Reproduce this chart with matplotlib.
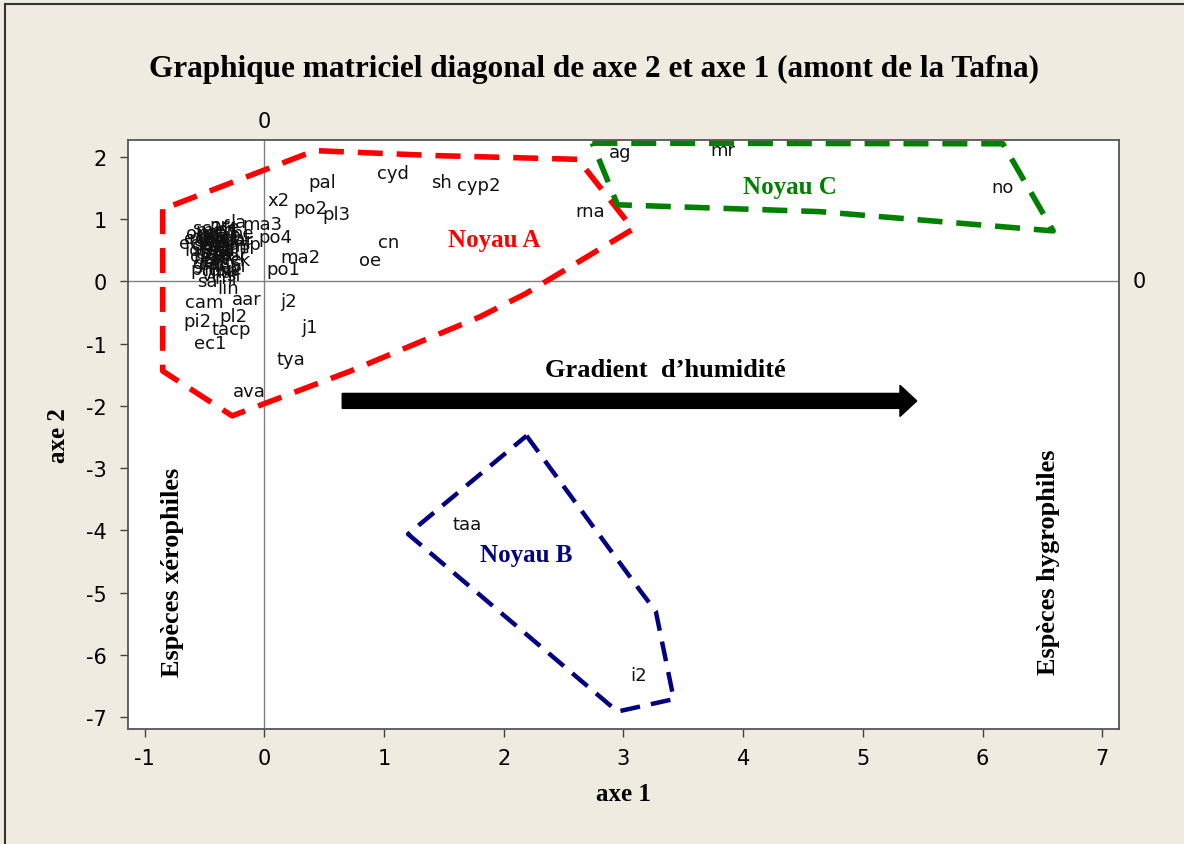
import numpy as np
import matplotlib
matplotlib.use('Agg')
from matplotlib import pyplot as plt
from matplotlib.patches import FancyArrow
from matplotlib.lines import Line2D

plt.rcParams['axes.unicode_minus'] = False

# species scores on axe 1 / axe 2
labels = ['x2', 'pal', 'po2', 'pl3', 'cyd', 'sh', 'cyp2', 'rna', 'ag', 'mr', 'no',
          'cn', 'oe', 'ma2', 'po1', 'ma3', 'po4', 'j2', 'j1', 'tya', 'ava',
          'ec1', 'tacp', 'pl2', 'pi2', 'aar', 'cam', 'taa', 'i2']
axe1 = [0.12, 0.48, 0.38, 0.60, 1.07, 1.48, 1.79, 2.72, 2.97, 3.83, 6.17,
        1.04, 0.88, 0.30, 0.16, -0.02, 0.09, 0.20, 0.38, 0.22, -0.13,
        -0.45, -0.28, -0.26, -0.56, -0.15, -0.50, 1.69, 3.13]
axe2 = [1.31, 1.60, 1.18, 1.08, 1.74, 1.60, 1.55, 1.13, 2.08, 2.11, 1.51,
        0.63, 0.34, 0.39, 0.20, 0.92, 0.71, -0.31, -0.73, -1.25, -1.76,
        -0.99, -0.77, -0.55, -0.63, -0.28, -0.33, -3.89, -6.33]

# the dense, overlapping cluster near the origin
clust_labels = ['sc1', 'ca1', 'ec2', 'la', 'ta1', 'ar', 'sp', 'ck', 'ne', 'cr',
                'co', 'fe', 'ge', 'ha', 'he', 'li', 'lo', 'me', 'mi', 'pa',
                'ph', 'pi', 'pr', 'ra', 're', 'ru', 'sa', 'se', 'si', 'st',
                'te', 'th', 'tr', 'ur', 've', 'vi', 'bl', 'lin', 'sca', 'ba',
                'dac', 'bra', 'hor', 'ono', 'pla', 'sil', 'bro', 'ery', 'mar', 'tri',
                'ech', 'car', 'lam', 'cal', 'eup', 'gal', 'med', 'ave', 'fum', 'ana']
clust_x = [-0.48, -0.35, -0.58, -0.22, -0.42, -0.30, -0.12, -0.20, -0.38, -0.55,
           -0.45, -0.28, -0.50, -0.36, -0.18, -0.25, -0.60, -0.40, -0.32, -0.46,
           -0.52, -0.22, -0.38, -0.44, -0.30, -0.56, -0.48, -0.34, -0.26, -0.42,
           -0.50, -0.36, -0.16, -0.40, -0.28, -0.46, -0.20, -0.30, -0.44, -0.38,
           -0.42, -0.33, -0.27, -0.52, -0.37, -0.31, -0.47, -0.40, -0.24, -0.35,
           -0.54, -0.43, -0.29, -0.39, -0.34, -0.49, -0.41, -0.32, -0.36, -0.45]
clust_y = [0.85, 0.80, 0.62, 0.95, 0.45, 0.70, 0.60, 0.35, 0.25, 0.40,
           0.55, 0.88, 0.30, 0.15, 0.78, 0.50, 0.50, 0.68, 0.05, 0.75,
           0.20, 0.25, 0.90, 0.35, 0.60, 0.70, 0.00, 0.42, 0.10, 0.58,
           0.45, 0.30, 0.55, 0.82, 0.20, 0.10, 0.70, -0.10, 0.65, 0.50,
           0.72, 0.64, 0.40, 0.78, 0.52, 0.84, 0.38, 0.60, 0.66, 0.46,
           0.70, 0.28, 0.56, 0.44, 0.74, 0.58, 0.82, 0.36, 0.18, 0.66]

# hulls of the three groups
noyauA_x = [-0.85, -0.85, -0.27, 0.72, 1.80, 2.18, 3.08, 2.62, 1.43, 0.42, -0.85]
noyauA_y = [1.16, -1.44, -2.16, -1.44, -0.57, -0.20, 0.84, 1.96, 2.02, 2.10, 1.16]
noyauB_x = [2.19, 3.14, 3.27, 3.42, 2.95, 1.20, 2.19]
noyauB_y = [-2.48, -4.97, -5.30, -6.71, -6.91, -4.06, -2.48]
noyauC_x = [2.74, 6.17, 6.59, 4.64, 2.95, 2.74]
noyauC_y = [2.22, 2.21, 0.81, 1.12, 1.23, 2.22]

xticks = [-1, 0, 1, 2, 3, 4, 5, 6, 7]
yticks = [2, 1, 0, -1, -2, -3, -4, -5, -6, -7]

serif = 'Liberation Serif'
bg = '#EFEBE1'

fig = plt.figure(figsize=(11.84, 8.45), dpi=100, facecolor=bg)
ax = fig.add_axes([0.1081, 0.1361, 0.8370, 0.6970])
ax.set_facecolor('white')
ax.set_xlim(-1.14, 7.14)
ax.set_ylim(-7.19, 2.27)

# reference lines
ax.axvline(0, color='#808080', lw=1, zorder=1)
ax.axhline(0, color='#808080', lw=1, zorder=1)

for lab, x, y in zip(clust_labels, clust_x, clust_y):
  ax.text(x, y, lab, fontsize=13, ha='center', va='center', color='#111111', family='DejaVu Sans', zorder=3)
for lab, x, y in zip(labels, axe1, axe2):
  ax.text(x, y, lab, fontsize=13, ha='center', va='center', color='#111111', family='DejaVu Sans', zorder=3)

dash = (4.5, 2.5)
ax.plot(noyauA_x, noyauA_y, color='#FF0000', lw=4, dashes=dash, zorder=2)
ax.plot(noyauB_x, noyauB_y, color='#000080', lw=3.2, dashes=dash, zorder=2)
ax.plot(noyauC_x, noyauC_y, color='#008000', lw=4, dashes=dash, zorder=2)

ax.text(1.92, 0.68, 'Noyau A', color='#FF0000', fontsize=18, fontweight='bold', family=serif, ha='center', va='center')
ax.text(2.19, -4.38, 'Noyau B', color='#000080', fontsize=18, fontweight='bold', family=serif, ha='center', va='center')
ax.text(4.39, 1.53, 'Noyau C', color='#008000', fontsize=18, fontweight='bold', family=serif, ha='center', va='center')

# gradient arrow
arr = FancyArrow(0.65, -1.92, 5.45 - 0.65, 0, width=0.24, head_width=0.50, head_length=0.14,
                 length_includes_head=True, color='black', zorder=4)
ax.add_patch(arr)
ax.text(3.35, -1.41, 'Gradient  d\u2019humidit\u00e9', fontsize=19, fontweight='bold', family=serif,
        ha='center', va='center')

ax.text(-0.77, -4.66, 'Esp\u00e8ces x\u00e9rophiles', rotation=90, fontsize=19, fontweight='bold',
        family=serif, ha='center', va='center')
ax.text(6.55, -4.5, 'Esp\u00e8ces hygrophiles', rotation=90, fontsize=19, fontweight='bold',
        family=serif, ha='center', va='center')

# labels of the reference lines
ax.text(0, 2.42, '0', fontsize=15, family='DejaVu Sans', ha='center', va='bottom', clip_on=False)
ax.text(7.25, 0, '0', fontsize=15, family='DejaVu Sans', ha='left', va='center', clip_on=False)

ax.set_xticks(xticks)
ax.set_yticks(yticks)
ax.tick_params(axis='both', direction='out', length=6, width=1, labelsize=15, color='#404040')
ax.tick_params(axis='x', pad=8)
ax.tick_params(axis='y', pad=9)
ax.tick_params(top=False, right=False)
for t in ax.get_xticklabels() + ax.get_yticklabels():
  t.set_family('DejaVu Sans')
for s in ax.spines.values():
  s.set_color('#555555')
  s.set_linewidth(1.3)

ax.set_xlabel('axe 1', fontsize=18, fontweight='bold', family=serif, labelpad=10)
ax.set_ylabel('axe 2', fontsize=18, fontweight='bold', family=serif, labelpad=12)

fig.text(0.502, 0.918, 'Graphique matriciel diagonal de axe 2 et axe 1 (amont de la Tafna)',
         fontsize=22.5, fontweight='bold', family=serif, ha='center', va='center')

# outer frame of the picture
fig.add_artist(Line2D([5 / 1184, 5 / 1184], [0, 1 - 5 / 845], color='#333333', lw=1.5, transform=fig.transFigure))
fig.add_artist(Line2D([5 / 1184, 1], [1 - 5 / 845, 1 - 5 / 845], color='#333333', lw=1.5, transform=fig.transFigure))

fig.savefig('out.png', dpi=100, facecolor=bg)
